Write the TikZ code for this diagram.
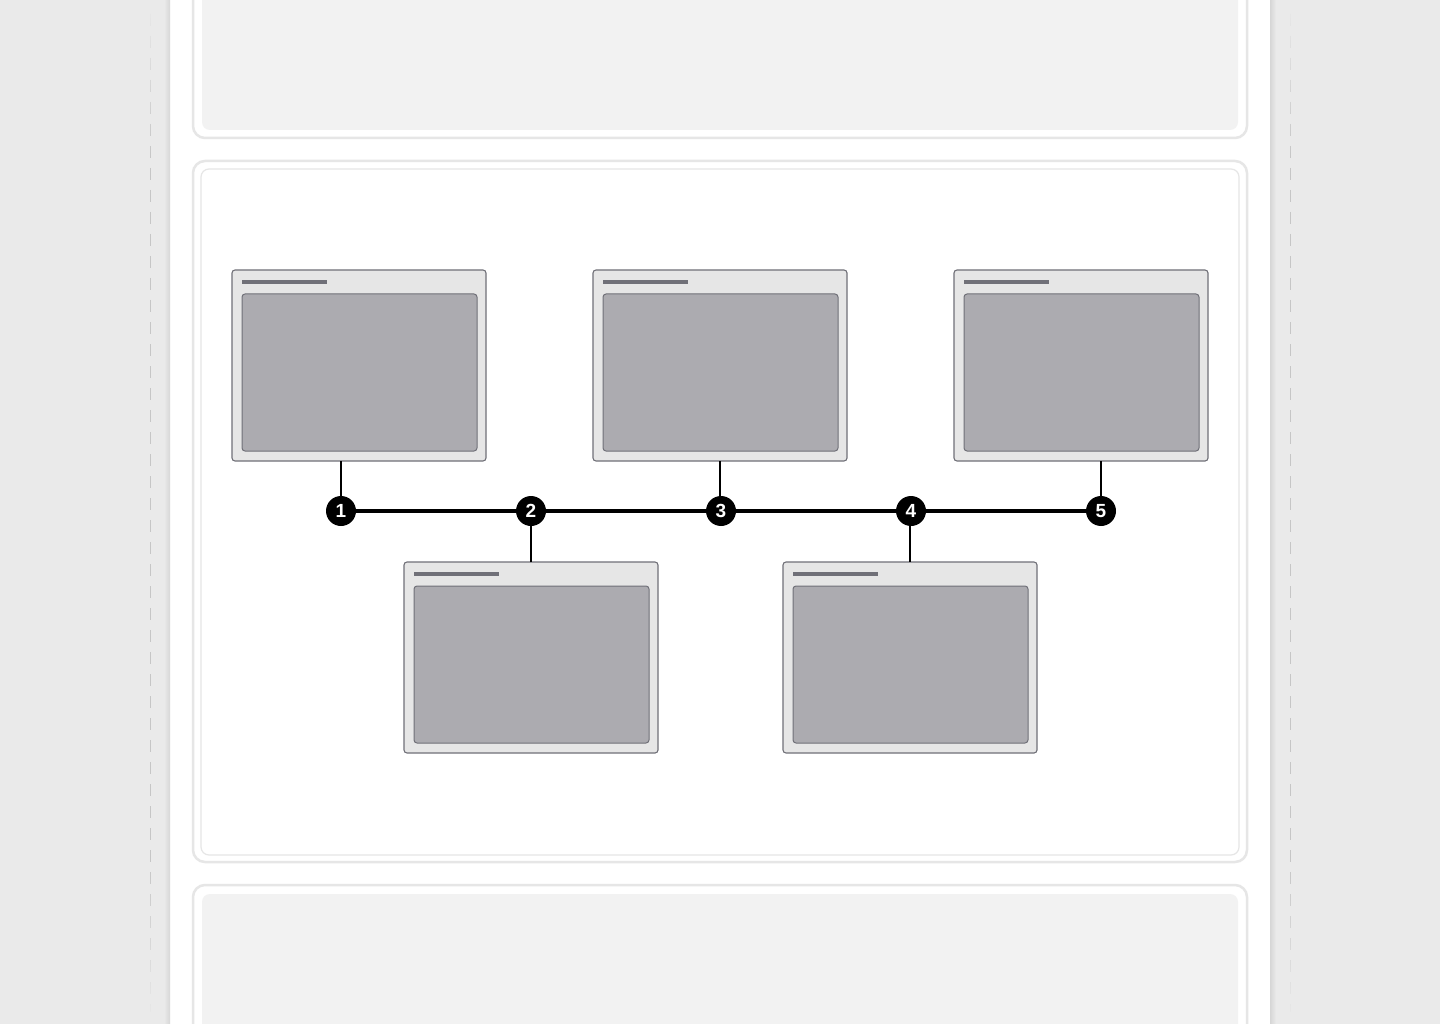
\documentclass[tikz,border=0pt]{standalone}
\usepackage{fontspec}
\setmainfont{Liberation Sans}
\usetikzlibrary{fadings}
\tikzfading[name=fadedown,top color=transparent!0,bottom color=transparent!100]
\tikzfading[name=fadeup,top color=transparent!100,bottom color=transparent!0]
\begin{document}
\begin{tikzpicture}[x=1pt,y=-1pt,
  win/.style={draw=winedge,fill=winfill,line width=1.1pt,rounded corners=3pt},
  winbody/.style={draw=winedge,fill=bodyfill,line width=1pt,rounded corners=3pt},
  titlebar/.style={fill=winedge,draw=none},
  stepdot/.style={circle,fill=black,minimum size=30pt,inner sep=0pt,text=white,font=\fontsize{19}{19}\selectfont\bfseries},
  link/.style={draw=black,line width=1.2pt},
  cardout/.style={draw=cardedge,line width=2.5pt,rounded corners=12pt,fill=white},
  guide/.style={dashc,line width=1pt,dash pattern=on 12pt off 10pt},
]
\definecolor{pagebg}{HTML}{EAEAEA}
\definecolor{cardedge}{HTML}{E6E6E6}
\definecolor{cardfill}{HTML}{F2F2F2}
\definecolor{winedge}{HTML}{707078}
\definecolor{winfill}{HTML}{E6E6E6}
\definecolor{bodyfill}{HTML}{ACABB0}
\definecolor{dashc}{HTML}{C6C6C6}
\useasboundingbox (0,0) rectangle (1440,1024);
\clip (0,0) rectangle (1440,1024);
\fill[pagebg] (0,0) rectangle (1440,1024);
\fill[white] (170,0) rectangle (1270,1024);
\shade[left color=pagebg,right color=black!16] (164,0) rectangle (170,1024);
\shade[left color=black!16,right color=pagebg] (1270,0) rectangle (1276,1024);
\draw[guide] (150,14) -- (150,1012);
\draw[guide] (1290,14) -- (1290,1012);
\foreach \gx in {150,1290}{
  \fill[pagebg,path fading=fadedown,fit fading=true] (\gx-5,0) rectangle (\gx+5,160);
  \fill[pagebg,path fading=fadeup,fit fading=true] (\gx-5,860) rectangle (\gx+5,1024);
}
% top card
\draw[cardout] (193,-30) rectangle (1247,138);
\fill[cardfill,rounded corners=8pt] (202,-30) rectangle (1238,130);
% middle card
\draw[cardout] (193,161) rectangle (1247,862);
\draw[draw=cardedge,line width=1.2pt,rounded corners=8pt,fill=white] (201,169) rectangle (1239,855);
% bottom card
\draw[cardout] (193,885) rectangle (1247,1060);
\fill[cardfill,rounded corners=8pt] (202,894) rectangle (1238,1060);
% windows
\foreach \n/\x/\y in {w1/232/270,w3/593/270,w5/954/270,w2/404/562,w4/783/562}{
  \draw[win] (\x,\y) rectangle ++(254,191);
  \fill[titlebar] (\x+10,\y+10) rectangle ++(85,4);
  \draw[winbody] (\x+10,\y+24) rectangle ++(235,157);
}
\coordinate (w1b) at (341,461);
\coordinate (w3b) at (720,461);
\coordinate (w5b) at (1101,461);
\coordinate (w2t) at (531,562);
\coordinate (w4t) at (910,562);
% timeline
\coordinate (s1) at (341,511);
\coordinate (s5) at (1101,511);
\draw[black,line width=4.5pt] (s1) -- (s5);
\draw[link] (w1b) -- (341,511);
\draw[link] (w3b) -- (720,511);
\draw[link] (w5b) -- (1101,511);
\draw[link] (w2t) -- (531,511);
\draw[link] (w4t) -- (910,511);
\node[stepdot] (n1) at (341,511) {1};
\node[stepdot] (n2) at (531,511) {2};
\node[stepdot] (n3) at (721,511) {3};
\node[stepdot] (n4) at (911,511) {4};
\node[stepdot] (n5) at (1101,511) {5};
\end{tikzpicture}
\end{document}
